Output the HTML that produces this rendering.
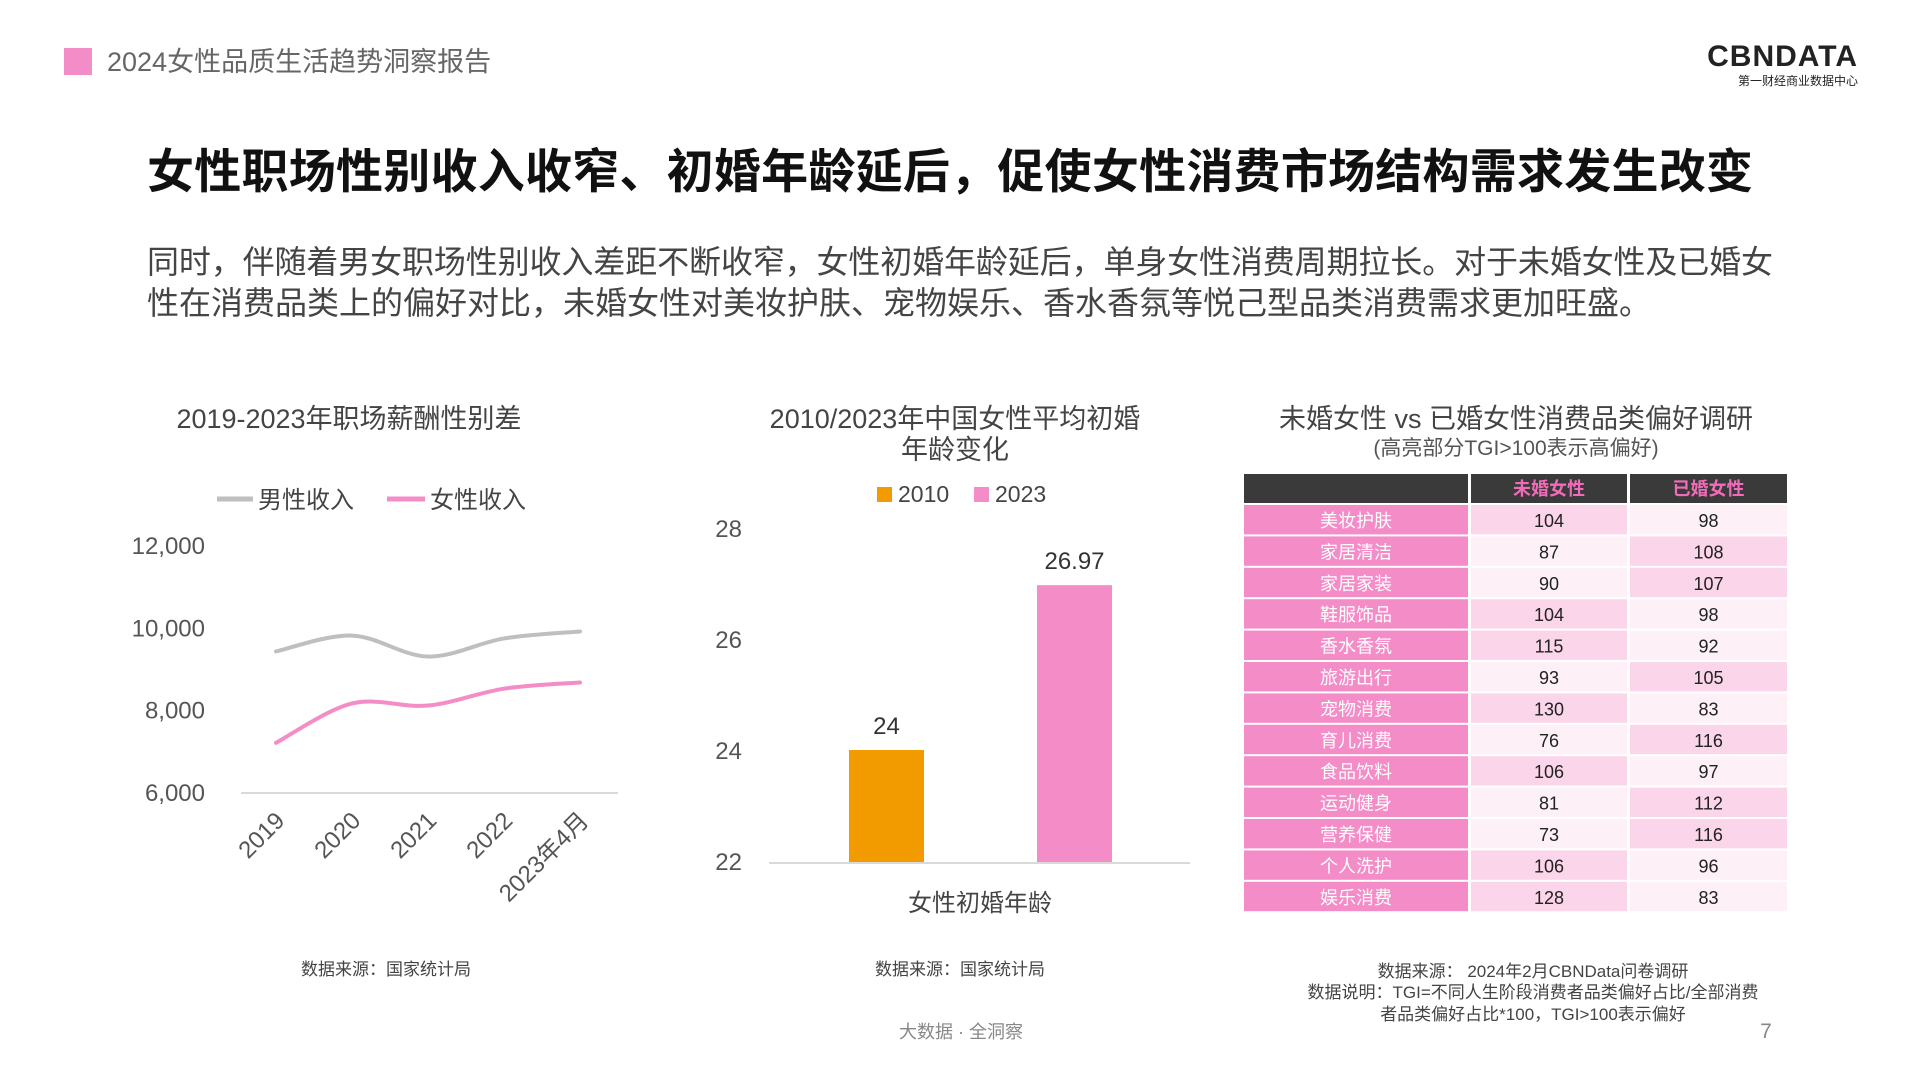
<!DOCTYPE html>
<html><head><meta charset="utf-8"><style>
body{margin:0;width:1920px;height:1080px;background:#fff;overflow:hidden;font-family:"Liberation Sans","Noto Sans CJK SC",sans-serif}
svg text{font-family:"Liberation Sans","Noto Sans CJK SC",sans-serif}
</style></head><body>
<svg id="s" width="1920" height="1080" xmlns="http://www.w3.org/2000/svg">
<rect x="64" y="48" width="28" height="27" fill="#f48cc8"/>
<text x="107" y="71" font-size="27" fill="#666">2024女性品质生活趋势洞察报告</text>
<text x="1858" y="66" text-anchor="end" font-size="30" font-weight="bold" fill="#222" letter-spacing="1">CBNDATA</text>
<text x="1858" y="85" text-anchor="end" font-size="12" fill="#222">第一财经商业数据中心</text>
<text x="147" y="188" font-size="47" font-weight="bold" fill="#111" textLength="1606">女性职场性别收入收窄、初婚年龄延后，促使女性消费市场结构需求发生改变</text>
<text x="147" y="273" font-size="32" fill="#444" textLength="1626">同时，伴随着男女职场性别收入差距不断收窄，女性初婚年龄延后，单身女性消费周期拉长。对于未婚女性及已婚女</text>
<text x="147" y="314" font-size="32" fill="#444">性在消费品类上的偏好对比，未婚女性对美妆护肤、宠物娱乐、香水香氛等悦己型品类消费需求更加旺盛。</text>

<text x="349" y="428" text-anchor="middle" font-size="27" fill="#444">2019-2023年职场薪酬性别差</text>
<line x1="217" y1="499" x2="253" y2="499" stroke="#bfbfbf" stroke-width="5"/>
<text x="258" y="508" font-size="24" fill="#444">男性收入</text>
<line x1="387" y1="499" x2="425" y2="499" stroke="#f48cc8" stroke-width="5"/>
<text x="430" y="508" font-size="24" fill="#444">女性收入</text>
<g id="lc"></g>

<text x="955" y="428" text-anchor="middle" font-size="27" fill="#444">2010/2023年中国女性平均初婚</text>
<text x="955" y="459" text-anchor="middle" font-size="27" fill="#444">年龄变化</text>
<rect x="877" y="487" width="15" height="15" fill="#f29b00"/>
<text x="898" y="502" font-size="23" fill="#444">2010</text>
<rect x="974" y="487" width="15" height="15" fill="#f48cc8"/>
<text x="995" y="502" font-size="23" fill="#444">2023</text>
<g id="bc"></g>
<text x="980" y="911" text-anchor="middle" font-size="24" fill="#444">女性初婚年龄</text>

<text x="1516" y="428" text-anchor="middle" font-size="27" fill="#444">未婚女性 vs 已婚女性消费品类偏好调研</text>
<text x="1516" y="455" text-anchor="middle" font-size="21" fill="#555">(高亮部分TGI&gt;100表示高偏好)</text>
<g id="tb"></g>

<text x="386" y="975" text-anchor="middle" font-size="17" fill="#444">数据来源：国家统计局</text>
<text x="960" y="975" text-anchor="middle" font-size="17" fill="#444">数据来源：国家统计局</text>
<text x="1533" y="977" text-anchor="middle" font-size="17" fill="#444">数据来源： 2024年2月CBNData问卷调研</text>
<text x="1533" y="998" text-anchor="middle" font-size="17" fill="#444">数据说明：TGI=不同人生阶段消费者品类偏好占比/全部消费</text>
<text x="1533" y="1020" text-anchor="middle" font-size="17" fill="#444">者品类偏好占比*100，TGI&gt;100表示偏好</text>
<text x="961" y="1038" text-anchor="middle" font-size="18" fill="#888">大数据 · 全洞察</text>
<text x="1766" y="1038" text-anchor="middle" font-size="21" fill="#888">7</text>
</svg>
<script>
const NS="http://www.w3.org/2000/svg";
const years=["2019","2020","2021","2022","2023年4月"];
const maleIncome=[9415,9800,9290,9730,9900];
const femaleIncome=[7195,8150,8100,8510,8660];
const incomeTicks=[6000,8000,10000,12000];
const barCats=["2010","2023"];
const barVals=[24,26.97];
const barLabels=["24","26.97"];
const ageTicks=[22,24,26,28];
const tableCats=["美妆护肤","家居清洁","家居家装","鞋服饰品","香水香氛","旅游出行","宠物消费","育儿消费","食品饮料","运动健身","营养保健","个人洗护","娱乐消费"];
const unmarried=[104,87,90,104,115,93,130,76,106,81,73,106,128];
const married=[98,108,107,98,92,105,83,116,97,112,116,96,83];

function mk(tag,attrs,parent,txt){const e=document.createElementNS(NS,tag);for(const k in attrs)e.setAttribute(k,attrs[k]);if(txt!==undefined)e.textContent=txt;parent.appendChild(e);return e;}

// line chart
const lc=document.getElementById('lc');
const ly=v=>792-(v-6000)/6000*247;
const lx=i=>276+i*76;
incomeTicks.forEach(t=>{const e=mk('text',{x:205,y:ly(t)+9,'text-anchor':'end','font-size':24,fill:'#555'},lc,t.toLocaleString('en-US'));

});
const ax=mk('line',{x1:241,y1:793,x2:618,y2:793,stroke:'#d9d9d9','stroke-width':2},lc);


function smooth(pts){let d=`M${pts[0][0]},${pts[0][1]}`;for(let i=0;i<pts.length-1;i++){const p0=pts[i-1]||pts[i],p1=pts[i],p2=pts[i+1],p3=pts[i+2]||p2;
d+=` C${p1[0]+(p2[0]-p0[0])/6},${p1[1]+(p2[1]-p0[1])/6} ${p2[0]-(p3[0]-p1[0])/6},${p2[1]-(p3[1]-p1[1])/6} ${p2[0]},${p2[1]}`;}return d;}
[[maleIncome,'#bfbfbf','male-income-line'],[femaleIncome,'#f48cc8','female-income-line']].forEach(([arr,c,n])=>{
const p=mk('path',{d:smooth(arr.map((v,i)=>[lx(i),ly(v)])),fill:'none',stroke:c,'stroke-width':4,'stroke-linecap':'round'},lc);

});
years.forEach((y,i)=>{const x=lx(i)+10,yy=822;const e=mk('text',{x:x,y:yy,'text-anchor':'end','font-size':24,fill:'#555',transform:`rotate(-45 ${x} ${yy})`},lc,y);

});

// bar chart
const bc=document.getElementById('bc');
const by=v=>861-(v-22)/6*333;
ageTicks.forEach(t=>{const e=mk('text',{x:742,y:by(t)+9,'text-anchor':'end','font-size':24,fill:'#555'},bc,String(t));

});
const bax=mk('line',{x1:769,y1:863,x2:1190,y2:863,stroke:'#d9d9d9','stroke-width':2},bc);


const bcol=['#f29b00','#f48cc8'];
barCats.forEach((c,i)=>{const x=849+i*188;const r=mk('rect',{x:x,y:by(barVals[i]),width:75,height:862-by(barVals[i]),fill:bcol[i]},bc);


const t=mk('text',{x:x+37.5,y:by(barVals[i])-16,'text-anchor':'middle','font-size':24,fill:'#333'},bc,barLabels[i]);

});

// table
const tb=document.getElementById('tb');
const cx=[1244,1471,1630],cw=[224,156,157];
mk('rect',{x:1244,y:474,width:543,height:29,fill:'#3a3a3a'},tb);
[["未婚女性",1],["已婚女性",2]].forEach(([h,j])=>{const t=mk('text',{x:cx[j]+cw[j]/2,y:495,'text-anchor':'middle','font-size':18,'font-weight':'bold',fill:'#f06cb8'},tb,h);

});
[1468,1627].forEach(x=>mk('rect',{x:x,y:474,width:3,height:29,fill:'#fff'},tb));
const rh=31.4;
tableCats.forEach((c,i)=>{const y=505+i*rh;
const a=mk('rect',{x:cx[0],y:y,width:cw[0],height:rh-2,fill:'#f48cc8'},tb);


const t=mk('text',{x:cx[0]+cw[0]/2,y:y+22,'text-anchor':'middle','font-size':18,fill:'#fff'},tb,c);


[unmarried[i],married[i]].forEach((v,k)=>{const j=k+1;
const r=mk('rect',{x:cx[j],y:y,width:cw[j],height:rh-2,fill:v>100?'#fbd5ea':'#fdf0f6'},tb);


const tt=mk('text',{x:cx[j]+cw[j]/2,y:y+22,'text-anchor':'middle','font-size':18,fill:'#222'},tb,String(v));

});});
</script>
</body></html>
